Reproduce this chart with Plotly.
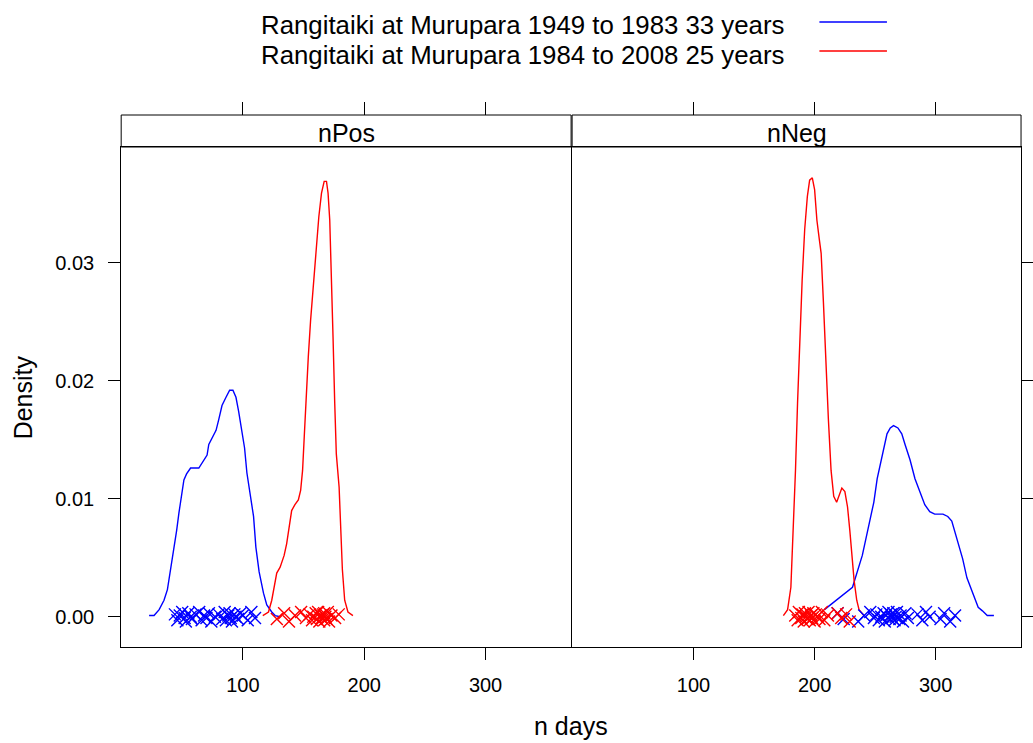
import plotly.graph_objects as go

# ---------------- data ----------------
panels = ["nPos", "nNeg"]
series_names = ["Rangitaiki at Murupara 1949 to 1983 33 years",
                "Rangitaiki at Murupara 1984 to 2008 25 years"]
x_ticks = [100, 200, 300]
y_ticks = [0.0, 0.01, 0.02, 0.03]
y_tick_text = ["0.00", "0.01", "0.02", "0.03"]

# density curves
pos_early_x = [22.7, 26.8, 31.0, 35.0, 37.8, 40.5, 43.2, 45.4, 47.3, 49.5, 51.4, 53.6, 56.9, 63.7, 67.0,
               70.5, 71.9, 74.6, 77.9, 80.1, 82.8, 86.1, 89.1, 91.8, 94.3, 96.5, 99.2, 101.4, 103.3, 106.1,
               108.8, 110.7, 113.4, 117.0, 119.7, 123.8, 126.6, 130.7]
pos_early_y = [0.0001, 0.0001, 0.0006, 0.0014, 0.0023, 0.0040, 0.0057, 0.0073, 0.0088, 0.0102, 0.0116,
               0.0121, 0.0126, 0.0126, 0.0131, 0.0137, 0.0146, 0.0151, 0.0158, 0.0167, 0.0179, 0.0186,
               0.0192, 0.0192, 0.0186, 0.0174, 0.0158, 0.0143, 0.0122, 0.0102, 0.0085, 0.0059, 0.0038,
               0.0020, 0.0010, 0.0004, 0.0001, 0.0000]

pos_late_x = [116.4, 121.1, 123.8, 125.7, 127.9, 130.7, 134.0, 136.1, 138.3, 140.2, 142.9, 145.7, 147.6,
              149.2, 150.6, 152.0, 153.9, 155.8, 158.0, 160.2, 162.6, 164.8, 167.0, 168.9, 170.2, 171.6,
              173.0, 174.3, 175.7, 177.0, 179.3, 180.3, 182.0, 183.9, 186.6, 190.7]
pos_late_y = [0.0001, 0.0004, 0.0014, 0.0025, 0.0037, 0.0042, 0.0052, 0.0062, 0.0076, 0.0090, 0.0095,
              0.0099, 0.0107, 0.0124, 0.0153, 0.0186, 0.0220, 0.0251, 0.0280, 0.0311, 0.0339, 0.0359,
              0.0369, 0.0369, 0.0359, 0.0336, 0.0294, 0.0237, 0.0181, 0.0138, 0.0110, 0.0082, 0.0040,
              0.0014, 0.0004, 0.0001]

neg_late_x = [174.2, 177.7, 180.4, 182.3, 184.2, 185.9, 187.7, 189.7, 191.8, 194.0, 195.9, 198.1, 200.0,
              201.9, 204.0, 205.4, 207.3, 209.5, 211.4, 213.6, 215.8, 218.2, 220.3, 222.5, 225.0, 227.2,
              229.1, 230.7, 232.6, 234.8, 236.7, 240.7]
neg_late_y = [0.0001, 0.0006, 0.0025, 0.0068, 0.0124, 0.0181, 0.0237, 0.0285, 0.0328, 0.0356, 0.0370,
              0.0372, 0.0362, 0.0336, 0.0319, 0.0308, 0.0266, 0.0209, 0.0167, 0.0124, 0.0102, 0.0097,
              0.0103, 0.0109, 0.0106, 0.0093, 0.0073, 0.0054, 0.0031, 0.0014, 0.0006, 0.0001]

neg_early_x = [208.1, 231.3, 239.4, 244.8, 248.9, 251.7, 255.7, 259.8, 262.5, 265.2, 268.8, 272.0, 274.7,
               278.8, 282.9, 287.0, 291.0, 295.1, 299.2, 306.0, 310.0, 313.3, 315.5, 318.2, 322.3, 325.8,
               329.1, 332.4, 335.1, 338.6, 342.6, 348.1]
neg_early_y = [0.0006, 0.0025, 0.0052, 0.0078, 0.0097, 0.0117, 0.0137, 0.0155, 0.0160, 0.0162, 0.0160,
               0.0155, 0.0146, 0.0133, 0.0117, 0.0106, 0.0095, 0.0089, 0.0087, 0.0087, 0.0085, 0.0081,
               0.0073, 0.0064, 0.0049, 0.0033, 0.0024, 0.0016, 0.0008, 0.0005, 0.0001, 0.0001]

# rug observations (n days per year) and their vertical jitter
pos_early_days = [44, 46, 48, 50, 52, 53, 55, 57, 58, 61, 64, 66, 68, 70, 72, 74, 77, 80, 83, 85, 86, 88,
                  89, 90, 91, 93, 94, 96, 98, 100, 104, 107, 110]
pos_early_jit = [0.0002, -0.0003, 0.0001, 0.0004, -0.0001, -0.0004, 0.0003, 0.0000, -0.0002, 0.0002,
                 0.0004, -0.0003, 0.0001, -0.0001, 0.0003, -0.0004, 0.0000, 0.0002, -0.0002, 0.0004,
                 -0.0003, 0.0001, 0.0003, -0.0001, -0.0004, 0.0002, 0.0000, -0.0002, 0.0003, 0.0001,
                 -0.0003, 0.0004, -0.0001]
pos_late_days = [128, 134, 138, 143, 148, 152, 155, 157, 158, 160, 161, 162, 163, 164, 165, 166, 167, 167,
                 168, 169, 170, 171, 173, 176, 179]
pos_late_jit = [-0.0002, 0.0003, -0.0004, 0.0001, 0.0004, -0.0001, 0.0002, -0.0003, 0.0000, 0.0003,
                -0.0002, 0.0004, -0.0004, 0.0001, -0.0001, 0.0002, -0.0003, 0.0003, 0.0000, -0.0002,
                0.0004, -0.0004, 0.0001, -0.0001, 0.0002]
neg_early_days = [219, 224, 236, 241, 246, 249, 251, 253, 255, 257, 258, 259, 261, 262, 263, 264, 265, 266,
                  267, 268, 270, 271, 273, 275, 277, 285, 289, 292, 295, 304, 307, 312, 316]
neg_early_jit = [0.0003, -0.0002, -0.0004, 0.0001, 0.0004, -0.0001, 0.0002, -0.0003, 0.0000, 0.0003,
                 -0.0004, 0.0001, 0.0004, -0.0002, 0.0002, -0.0001, 0.0003, -0.0003, 0.0000, 0.0004,
                 -0.0002, 0.0001, -0.0004, 0.0003, -0.0001, 0.0002, -0.0003, 0.0004, 0.0000, -0.0002,
                 0.0003, -0.0004, 0.0001]
neg_late_days = [184, 186, 187, 189, 190, 191, 192, 193, 194, 195, 196, 197, 198, 199, 200, 201, 202, 204,
                 206, 208, 211, 219, 222, 226, 229]
neg_late_jit = [0.0001, -0.0003, 0.0004, -0.0001, 0.0002, -0.0004, 0.0003, 0.0000, -0.0002, 0.0004,
                -0.0003, 0.0001, -0.0001, 0.0003, -0.0004, 0.0002, 0.0000, -0.0002, 0.0004, -0.0003,
                0.0001, 0.0003, -0.0001, 0.0002, -0.0004]

# ---------------- layout helpers ----------------
W, H = 1033, 743
FONT = "Liberation Sans, Arial, Helvetica, sans-serif"
BLUE, RED = "#0000FF", "#FF0000"
XR = [-0.3, 370.5]
YR = [-0.00259, 0.03981]

def px(x):
    return x / W

def py(y):
    return 1 - y / H

left_dom = [px(122), px(575)]
right_dom = [px(576), px(1028)]
plot_dom = [py(647.3), py(147)]

fig = go.Figure()

def add_curve(xs, ys, color, xa, ya):
    fig.add_trace(go.Scatter(x=xs, y=ys, mode="lines", line=dict(color=color, width=1.4),
                             xaxis=xa, yaxis=ya, showlegend=False, hoverinfo="skip"))

def add_rug(xs, js, color, xa, ya):
    fig.add_trace(go.Scatter(x=xs, y=js, mode="markers",
                             marker=dict(symbol="x-thin", size=12, color=color,
                                         line=dict(color=color, width=1.4)),
                             xaxis=xa, yaxis=ya, showlegend=False, hoverinfo="skip"))

add_curve(pos_early_x, pos_early_y, BLUE, "x", "y")
add_curve(pos_late_x, pos_late_y, RED, "x", "y")
add_rug(pos_early_days, pos_early_jit, BLUE, "x", "y")
add_rug(pos_late_days, pos_late_jit, RED, "x", "y")

add_curve(neg_early_x, neg_early_y, BLUE, "x2", "y2")
add_curve(neg_late_x, neg_late_y, RED, "x2", "y2")
add_rug(neg_early_days, neg_early_jit, BLUE, "x2", "y2")
add_rug(neg_late_days, neg_late_jit, RED, "x2", "y2")

# dummy traces so top-tick axes are rendered
fig.add_trace(go.Scatter(x=[None], y=[None], xaxis="x3", yaxis="y", showlegend=False, hoverinfo="skip"))
fig.add_trace(go.Scatter(x=[None], y=[None], xaxis="x4", yaxis="y2", showlegend=False, hoverinfo="skip"))

tickfont = dict(family=FONT, size=20, color="black")

base_x = dict(range=XR, tickvals=x_ticks, ticks="outside", ticklen=12, tickwidth=1, tickcolor="black",
              showline=True, linecolor="black", linewidth=1, mirror=True, showgrid=False, zeroline=False,
              tickfont=tickfont, ticklabelstandoff=8, fixedrange=True)
base_y = dict(range=YR, domain=plot_dom, tickvals=y_ticks, ticktext=y_tick_text, ticks="outside",
              ticklen=12, tickwidth=1, tickcolor="black", showline=True, linecolor="black", linewidth=1,
              mirror=True, showgrid=False, zeroline=False, tickfont=tickfont, ticklabelstandoff=10,
              fixedrange=True)
top_x = dict(range=XR, tickvals=x_ticks, ticks="outside", ticklen=13, tickwidth=1, tickcolor="black",
             showline=False, showgrid=False, zeroline=False, showticklabels=False, side="top",
             anchor="free", position=py(115), fixedrange=True)

fig.update_layout(
    width=W, height=H, margin=dict(l=0, r=0, t=0, b=0),
    paper_bgcolor="white", plot_bgcolor="rgba(0,0,0,0)",
    xaxis=dict(base_x, domain=left_dom, anchor="y"),
    xaxis2=dict(base_x, domain=right_dom, anchor="y2"),
    xaxis3=dict(top_x, overlaying="x"),
    xaxis4=dict(top_x, overlaying="x2"),
    yaxis=dict(base_y, anchor="x", side="left"),
    yaxis2=dict(base_y, anchor="x2", side="right", showticklabels=False),
    showlegend=False,
)

# strips
strip_top, strip_bot = py(115), py(147)
for dom, name in zip([left_dom, right_dom], panels):
    fig.add_shape(type="rect", xref="paper", yref="paper", x0=dom[0], x1=dom[1], y0=strip_bot,
                  y1=strip_top, line=dict(color="black", width=1), fillcolor="white", layer="below")
    fig.add_annotation(x=(dom[0] + dom[1]) / 2, y=py(133), xref="paper", yref="paper", text=name,
                       showarrow=False, xanchor="center", yanchor="middle",
                       font=dict(family=FONT, size=25, color="black"))

# legend (key)
for i, (name, col) in enumerate(zip(series_names, [BLUE, RED])):
    ytxt = 25 + 30 * i
    yline = 22 + 29 * i
    fig.add_annotation(x=px(261), y=py(ytxt), xref="paper", yref="paper", text=name, showarrow=False,
                       xanchor="left", yanchor="middle", font=dict(family=FONT, size=25.8, color="black"))
    fig.add_shape(type="line", xref="paper", yref="paper", x0=px(825), x1=px(893), y0=py(yline),
                  y1=py(yline), line=dict(color=col, width=1.4))

# axis titles
fig.add_annotation(x=px(23), y=py(397.5), xref="paper", yref="paper", text="Density", textangle=-90,
                   showarrow=False, xanchor="center", yanchor="middle",
                   font=dict(family=FONT, size=25, color="black"))
fig.add_annotation(x=px(574.5), y=py(726), xref="paper", yref="paper", text="n days", showarrow=False,
                   xanchor="center", yanchor="middle", font=dict(family=FONT, size=25, color="black"))

fig.write_html("out.html")
